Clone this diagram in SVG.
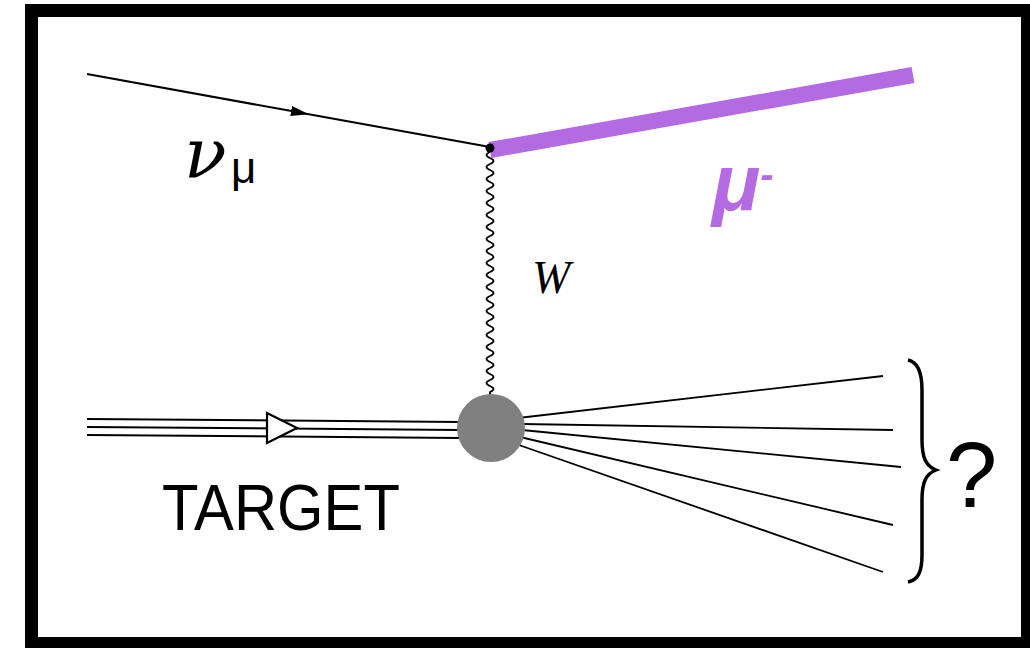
<svg xmlns="http://www.w3.org/2000/svg" width="1030" height="648" viewBox="0 0 1030 648">
<style>
.ln{stroke:#000;stroke-width:2;fill:none}
.out{stroke:#000;stroke-width:1.8;fill:none}
</style>
<defs>
<marker id="arr" markerWidth="18" markerHeight="12" refX="9" refY="6" orient="auto" markerUnits="userSpaceOnUse">
<path d="M0,1 L18,6 L0,11 Z" fill="#000"/>
</marker>
</defs>
<rect x="0" y="0" width="1030" height="648" fill="#fff"/>
<g id="frame">
<rect x="25" y="4" width="1010" height="650" fill="#000"/>
<rect x="38" y="17" width="983" height="620" fill="#fff"/>
</g>
<g id="connectors">
<path class="ln" d="M87,74 L300,112.6" marker-end="url(#arr)"/>
<path class="ln" d="M295,111.7 L490,147"/>
<line x1="490" y1="150" x2="913" y2="75" stroke="#b36ae2" stroke-width="16"/>
<path class="out" stroke-width="1.5" d="M490,152 q-7,3 0,6 q7,3 0,6 q-7,3 0,6 q7,3 0,6 q-7,3 0,6 q7,3 0,6 q-7,3 0,6 q7,3 0,6 q-7,3 0,6 q7,3 0,6 q-7,3 0,6 q7,3 0,6 q-7,3 0,6 q7,3 0,6 q-7,3 0,6 q7,3 0,6 q-7,3 0,6 q7,3 0,6 q-7,3 0,6 q7,3 0,6 q-7,3 0,6 q7,3 0,6 q-7,3 0,6 q7,3 0,6 q-7,3 0,6 q7,3 0,6 q-7,3 0,6 q7,3 0,6 q-7,3 0,6 q7,3 0,6 q-7,3 0,6 q7,3 0,6 q-7,3 0,6 q7,3 0,6 q-7,3 0,6 q7,3 0,6 q-7,3 0,6 q7,3 0,6 q-7,3 0,6 q7,3 0,6 L490,396"/>
<line class="ln" x1="87" y1="419" x2="460" y2="422"/>
<line class="ln" x1="87" y1="427" x2="460" y2="430"/>
<line class="ln" x1="87" y1="435" x2="460" y2="438"/>
<path d="M267,413 L297,428 L267,443 Z" fill="#fff" stroke="#000" stroke-width="2.2"/>
<line class="out" x1="518" y1="418" x2="883" y2="376"/>
<line class="out" x1="522" y1="424" x2="893" y2="430"/>
<line class="out" x1="522" y1="430" x2="901" y2="467"/>
<line class="out" x1="520" y1="437" x2="893" y2="525"/>
<line class="out" x1="516" y1="444" x2="883" y2="572"/>
</g>
<g id="vertex">
<circle cx="490" cy="148" r="4.5" fill="#000"/>
</g>
<g id="blob">
<circle cx="491" cy="428" r="34" fill="#808080"/>
</g>
<g id="brace">
<path d="M908,360 C918,362 922,372 922,390 L922,440 C922,458 926,466 936,470 C926,474 922,482 922,500 L922,555 C922,572 918,580 908,582" fill="none" stroke="#000" stroke-width="3.5"/>
</g>
<g id="labels">
<text x="184" y="177" font-family="DejaVu Serif, serif" font-style="italic" font-size="70">ν</text>
<text x="231" y="183" font-family="Liberation Sans, Arial, sans-serif" font-size="44">μ</text>
<text x="532" y="293" font-family="Liberation Serif, serif" font-style="italic" font-size="46">W</text>
<text x="712" y="210" font-family="Liberation Sans, Arial, sans-serif" font-weight="bold" font-style="italic" font-size="80" fill="#b36ae2">μ<tspan font-size="40" dy="-22">-</tspan></text>
<text x="162" y="530" font-family="Liberation Sans, Arial, sans-serif" font-size="64" textLength="238" lengthAdjust="spacingAndGlyphs">TARGET</text>
<text x="946" y="507" font-family="Liberation Sans, Arial, sans-serif" font-size="92">?</text>
</g>
</svg>
